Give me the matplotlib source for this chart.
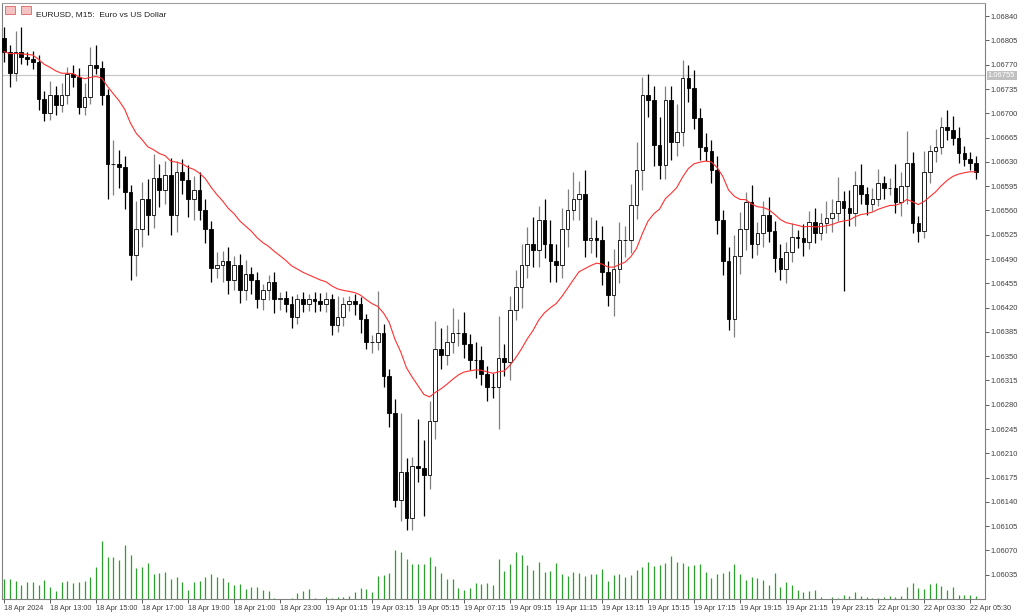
import matplotlib
matplotlib.use("Agg")
import matplotlib.pyplot as plt
from matplotlib.patches import Rectangle
import numpy as np
import pandas as pd

plt.rcParams['font.family'] = ['Liberation Sans', 'DejaVu Sans']

# close prices in points (1e-5), 15 minute bars
first_open = 106809
closes = [
    106789, 106758, 106788, 106781, 106778, 106774, 106720, 106701, 106726, 106712,
    106726, 106757, 106753, 106709, 106723, 106770, 106766, 106727, 106627, 106627,
    106623, 106587, 106496, 106533, 106576, 106554, 106607, 106590, 106611, 106554,
    106616, 106604, 106576, 106590, 106561, 106533, 106477, 106482, 106487, 106460,
    106482, 106446, 106468, 106460, 106432, 106446, 106457, 106432, 106434, 106425,
    106406, 106432, 106425, 106432, 106429, 106425, 106432, 106395, 106406, 106425,
    106429, 106425, 106403, 106370, 106371, 106384, 106321, 106268, 106143, 106183,
    106117, 106191, 106189, 106179, 106256, 106360, 106352, 106370, 106384, 106384,
    106367, 106345, 106344, 106324, 106306, 106305, 106348, 106341, 106417, 106449,
    106482, 106511, 106503, 106546, 106511, 106487, 106482, 106533, 106561, 106576,
    106583, 106518, 106521, 106518, 106472, 106438, 106475, 106518, 106518, 106568,
    106619, 106727, 106719, 106654, 106626, 106719, 106658, 106673, 106751, 106737,
    106693, 106652, 106646, 106619, 106546, 106487, 106403, 106494, 106533, 106572,
    106511, 106528, 106554, 106530, 106492, 106475, 106500, 106522, 106521, 106514,
    106544, 106528, 106542, 106549, 106557, 106573, 106564, 106557, 106597, 106584,
    106569, 106577, 106600, 106592, 106592, 106572, 106595, 106629, 106542, 106530,
    106615, 106645, 106652, 106680, 106676, 106665, 106643, 106634, 106629, 106615,
]
upper_wick = [
    15, 10, 30, 36, 8, 12, 10, 12, 20, 14,
    18, 10, 12, 12, 20, 25, 28, 10, 8, 35,
    20, 15, 10, 40, 25, 30, 35, 20, 20, 25,
    15, 18, 22, 20, 25, 15, 12, 18, 15, 20,
    12, 15, 20, 10, 12, 8, 10, 14, 8, 10,
    12, 8, 10, 8, 10, 12, 10, 8, 30, 10,
    8, 10, 10, 8, 10, 60, 12, 10, 20, 85,
    20, 14, 68, 40, 30, 40, 30, 25, 35, 20,
    30, 15, 25, 20, 12, 20, 60, 20, 20, 25,
    30, 25, 40, 20, 30, 35, 25, 30, 30, 40,
    20, 35, 30, 25, 20, 15, 30, 25, 20, 30,
    40, 25, 30, 20, 40, 20, 20, 40, 26, 19,
    25, 15, 20, 15, 20, 15, 20, 30, 25, 15,
    25, 15, 20, 25, 15, 20, 15, 20, 10, 20,
    15, 20, 15, 25, 20, 35, 15, 25, 20, 30,
    10, 15, 20, 10, 15, 35, 20, 45, 15, 10,
    30, 10, 25, 15, 25, 20, 15, 10, 10, 10,
]
lower_wick = [
    15, 20, 12, 10, 8, 10, 15, 12, 10, 15,
    10, 12, 15, 10, 12, 10, 10, 15, 50, 45,
    30, 25, 36, 30, 25, 30, 20, 25, 20, 30,
    25, 20, 25, 30, 15, 20, 20, 15, 25, 20,
    15, 20, 15, 20, 12, 15, 15, 20, 15, 12,
    15, 10, 12, 10, 15, 10, 12, 15, 10, 12,
    10, 15, 20, 10, 15, 12, 15, 20, 10, 30,
    17, 17, 20, 60, 20, 25, 20, 15, 15, 20,
    20, 15, 25, 15, 20, 15, 60, 20, 25, 15,
    30, 20, 25, 25, 20, 30, 25, 20, 25, 15,
    30, 25, 20, 25, 20, 15, 30, 20, 25, 20,
    20, 30, 25, 30, 20, 20, 25, 20, 20, 20,
    15, 20, 15, 20, 20, 20, 15, 25, 25, 30,
    20, 15, 20, 15, 20, 15, 20, 15, 15, 20,
    10, 15, 10, 15, 20, 12, 120, 20, 20, 15,
    15, 10, 10, 15, 10, 15, 20, 25, 15, 15,
    10, 15, 15, 10, 15, 10, 15, 10, 10, 10,
]
tick_volume = [
    60, 60, 53, 43, 50, 52, 43, 58, 37, 25,
    52, 55, 47, 50, 55, 65, 97, 175, 127, 127,
    118, 163, 133, 93, 97, 110, 75, 78, 80, 60,
    65, 50, 28, 52, 55, 67, 75, 65, 63, 50,
    43, 45, 30, 37, 35, 27, 25, 3, 1, 1,
    3, 17, 23, 30, 2, 0, 5, 3, 7, 5,
    10, 20, 33, 31, 22, 70, 73, 77, 147, 143,
    120, 105, 107, 105, 127, 100, 78, 60, 60, 33,
    27, 33, 48, 45, 47, 42, 120, 85, 105, 143,
    133, 102, 87, 112, 82, 83, 108, 75, 68, 82,
    77, 70, 75, 75, 90, 55, 73, 75, 67, 72,
    87, 97, 113, 100, 102, 110, 130, 113, 108, 100,
    102, 105, 80, 62, 75, 77, 85, 105, 75, 57,
    65, 62, 57, 42, 77, 37, 50, 43, 28, 20,
    23, 27, 7, 1, 7, 2, 13, 10, 22, 10,
    7, 2, 2, 5, 10, 7, 10, 35, 48, 33,
    30, 45, 48, 38, 27, 35, 13, 12, 12, 10,
]
time_labels = ['18 Apr 2024', '18 Apr 13:00', '18 Apr 15:00', '18 Apr 17:00', '18 Apr 19:00',
               '18 Apr 21:00', '18 Apr 23:00', '19 Apr 01:15', '19 Apr 03:15', '19 Apr 05:15',
               '19 Apr 07:15', '19 Apr 09:15', '19 Apr 11:15', '19 Apr 13:15', '19 Apr 15:15',
               '19 Apr 17:15', '19 Apr 19:15', '19 Apr 21:15', '19 Apr 23:15', '22 Apr 01:30',
               '22 Apr 03:30', '22 Apr 05:30']
line_price = 1.06755
ma_period = 20

c = np.array(closes) / 1e5
o = np.concatenate([[first_open / 1e5], c[:-1]])
hi = np.maximum(o, c) + np.array(upper_wick) / 1e5
lo = np.minimum(o, c) - np.array(lower_wick) / 1e5
ma = pd.Series(c).ewm(span=ma_period, adjust=False).mean()
x = np.arange(len(c))

fig = plt.figure(figsize=(10.24, 6.16), dpi=100)
ax = fig.add_axes([2 / 1024, 17 / 616, 983 / 1024, 596 / 616])
ax.set_xlim(-0.35, 170.6)
ax.set_ylim(1.06000, 1.06859)

# volume overlay at the bottom
axv = ax.twinx()
axv.vlines(x, 0, tick_volume, color='#2ca02c', lw=0.9, zorder=1)
axv.set_ylim(0, 175 * 596 / 58)
axv.axis('off')
ax.set_zorder(axv.get_zorder() + 1)
ax.patch.set_visible(False)

up = c >= o
ax.vlines(x[up], lo[up], hi[up], color='#808080', lw=0.9, zorder=2)
ax.vlines(x[~up], lo[~up], hi[~up], color='black', lw=0.9, zorder=2)
ax.bar(x[up], (c - o)[up], bottom=o[up], width=0.62, color='white', edgecolor='black', lw=0.6, zorder=3)
ax.bar(x[~up], (o - c)[~up], bottom=c[~up], width=0.62, color='black', edgecolor='black', lw=0.6, zorder=3)
ax.plot(x, ma, color='#ff3030', lw=0.8, zorder=4)

ax.axhline(line_price, color='#c8c8c8', lw=0.9, zorder=1)

ax.yaxis.tick_right()
yt = np.arange(106035, 106841, 35) / 1e5
ax.set_yticks(yt)
ax.set_yticklabels([f'{v:.5f}' for v in yt], fontsize=5.5)
ax.set_xticks(x[::8][:len(time_labels)])
ax.set_xticklabels(time_labels, fontsize=5.2, ha='left')
ax.tick_params(length=3, width=0.6, colors='#404040', pad=1)
for s in ax.spines.values():
    s.set_color('#808080')
    s.set_linewidth(0.8)
ax.spines['top'].set_color('#a0a0a0')

ax.text(1.003, line_price, f'{line_price:.5f}', transform=ax.get_yaxis_transform(), fontsize=5.5,
        color='white', va='center', ha='left', bbox=dict(boxstyle='square,pad=0.15', fc='#c0c0c0', ec='none'))
ax.text(34 / 983, 0.986, 'EURUSD, M15:  Euro vs US Dollar', transform=ax.transAxes, fontsize=6,
        va='top', ha='left', color='#202020')
# the two small window icons before the title
for ix in (5, 21):
    fig.patches.append(Rectangle((ix / 1024, 602 / 616), 10 / 1024, 8 / 616, transform=fig.transFigure,
                                 fc='#f4c4c4', ec='#e06060', lw=0.6))

fig.savefig('out.png', dpi=100)
